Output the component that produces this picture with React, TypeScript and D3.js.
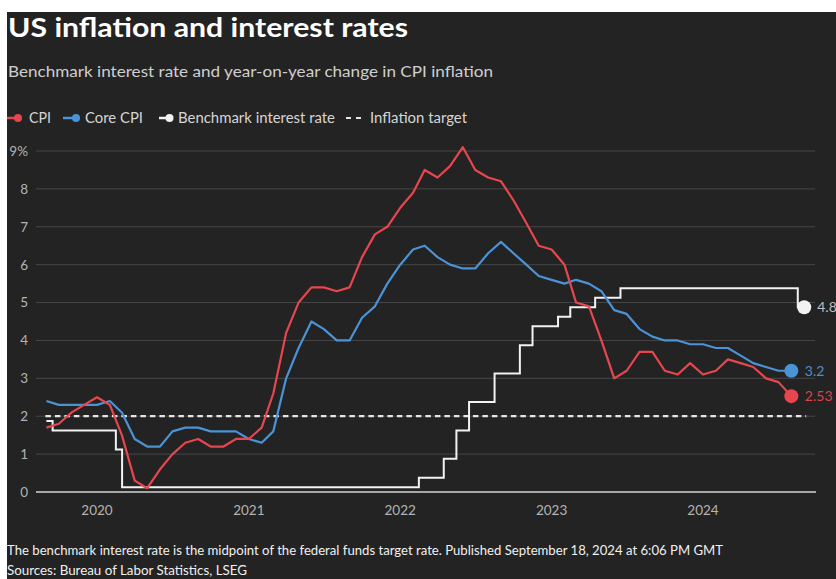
import React from "react";
import * as d3 from "d3";

// ---- Data (monthly, starting September 2019) ----
const seriesStart = "2019-09";
const cpi = [
  1.7, 1.8, 2.1, 2.3,
  2.5, 2.3, 1.5, 0.3, 0.1, 0.6, 1.0, 1.3, 1.4, 1.2, 1.2, 1.4,
  1.4, 1.7, 2.6, 4.2, 5.0, 5.4, 5.4, 5.3, 5.4, 6.2, 6.8, 7.0,
  7.5, 7.9, 8.5, 8.3, 8.6, 9.1, 8.5, 8.3, 8.2, 7.7, 7.1, 6.5,
  6.4, 6.0, 5.0, 4.9, 4.0, 3.0, 3.2, 3.7, 3.7, 3.2, 3.1, 3.4,
  3.1, 3.2, 3.5, 3.4, 3.3, 3.0, 2.9, 2.53,
];
const coreCpi = [
  2.4, 2.3, 2.3, 2.3,
  2.3, 2.4, 2.1, 1.4, 1.2, 1.2, 1.6, 1.7, 1.7, 1.6, 1.6, 1.6,
  1.4, 1.3, 1.6, 3.0, 3.8, 4.5, 4.3, 4.0, 4.0, 4.6, 4.9, 5.5,
  6.0, 6.4, 6.5, 6.2, 6.0, 5.9, 5.9, 6.3, 6.6, 6.3, 6.0, 5.7,
  5.6, 5.5, 5.6, 5.5, 5.3, 4.8, 4.7, 4.3, 4.1, 4.0, 4.0, 3.9,
  3.9, 3.8, 3.8, 3.6, 3.4, 3.3, 3.2, 3.2,
];
// Benchmark rate (midpoint of fed funds target), monthly Sep 2019 - Sep 2024
const rate = [
  1.875, 1.625, 1.625, 1.625,
  1.625, 1.625, 1.125, 0.125, 0.125, 0.125, 0.125, 0.125, 0.125, 0.125, 0.125, 0.125,
  0.125, 0.125, 0.125, 0.125, 0.125, 0.125, 0.125, 0.125, 0.125, 0.125, 0.125, 0.125,
  0.125, 0.125, 0.375, 0.375, 0.875, 1.625, 2.375, 2.375, 3.125, 3.125, 3.875, 4.375,
  4.375, 4.625, 4.875, 4.875, 5.125, 5.125, 5.375, 5.375, 5.375, 5.375, 5.375, 5.375,
  5.375, 5.375, 5.375, 5.375, 5.375, 5.375, 5.375, 5.375, 4.875,
];
// emergency cut within March 2020
const rateExtraDates = ["2020-03-02"];
const rateExtraValues = [0.125];
const inflationTarget = 2;
const yTicks = [0, 1, 2, 3, 4, 5, 6, 7, 8, 9];
const yearTicks = ["2020", "2021", "2022", "2023", "2024"];
const endLabels = { cpi: "2.53", core: "3.2", rate: "4.8" };

const title = "US inflation and interest rates";
const subtitle = "Benchmark interest rate and year-on-year change in CPI inflation";
const legendItems = ["CPI", "Core CPI", "Benchmark interest rate", "Inflation target"];
const footer1 =
  "The benchmark interest rate is the midpoint of the federal funds target rate. Published September 18, 2024 at 6:06 PM GMT";
const footer2 = "Sources: Bureau of Labor Statistics, LSEG";

const COLORS = {
  bg: "#232323",
  cpi: "#e8464e",
  core: "#4a93d6",
  rate: "#f2f2f2",
  grid: "#474747",
  axisText: "#b4b4b4",
};
const FONT = "Lato, 'Open Sans', sans-serif";

type Pt = { date: Date; value: number };

export default function App() {
  const W = 836;
  const H = 579;
  const parseMonth = d3.timeParse("%Y-%m");
  const parseDay = d3.timeParse("%Y-%m-%d");
  const start = parseMonth(seriesStart) as Date;

  const x = d3
    .scaleTime()
    .domain([new Date(2020, 0, 1), new Date(2024, 0, 1)])
    .range([97, 703]);
  const y = d3.scaleLinear().domain([0, 9]).range([492, 151]);

  const toPts = (arr: number[]): Pt[] =>
    arr.map((v, i) => ({ date: d3.timeMonth.offset(start, i), value: v }));

  const cpiPts = toPts(cpi);
  const corePts = toPts(coreCpi);
  const ratePts = toPts(rate)
    .concat(
      rateExtraDates.map((d, i) => ({ date: parseDay(d) as Date, value: rateExtraValues[i] }))
    )
    .sort((a, b) => +a.date - +b.date);

  const line = d3
    .line<Pt>()
    .x((d) => x(d.date))
    .y((d) => y(d.value))
    .curve(d3.curveLinear);
  const stepLine = d3
    .line<Pt>()
    .x((d) => x(d.date))
    .y((d) => y(d.value))
    .curve(d3.curveStep);

  const gridX0 = 36;
  const gridX1 = 815;
  const lastCpi = cpiPts[cpiPts.length - 1];
  const lastCore = corePts[corePts.length - 1];
  const lastRate = ratePts[ratePts.length - 1];
  const targetX0 = x(ratePts[0].date) - 1;
  const targetX1 = x(lastRate.date) + 2;

  return (
    <svg
      width={W}
      height={H}
      style={{ position: "absolute", left: 0, top: 0, display: "block" }}
      fontFamily={FONT}
    >
      <rect x={0} y={0} width={W} height={H} fill="#ffffff" />
      <rect x={7} y={12} width={W - 7} height={H - 12} fill={COLORS.bg} />

      {/* Title block */}
      <text x={8} y={37} fill="#ffffff" fontSize={27.5} fontWeight={700} textLength={400} lengthAdjust="spacingAndGlyphs">
        {title}
      </text>
      <text x={8} y={77} fill="#cfcfcf" fontSize={16} textLength={485} lengthAdjust="spacingAndGlyphs">
        {subtitle}
      </text>

      {/* Legend */}
      <g fontSize={14.5} fill="#d6d6d6">
        <line x1={7} x2={17} y1={118} y2={118} stroke={COLORS.cpi} strokeWidth={2.5} />
        <circle cx={18} cy={118} r={4} fill={COLORS.cpi} />
        <text x={29} y={123} textLength={22} lengthAdjust="spacingAndGlyphs">{legendItems[0]}</text>

        <line x1={63} x2={75} y1={118} y2={118} stroke={COLORS.core} strokeWidth={2.5} />
        <circle cx={76} cy={118} r={4} fill={COLORS.core} />
        <text x={85} y={123} textLength={58} lengthAdjust="spacingAndGlyphs">{legendItems[1]}</text>

        <line x1={159} x2={169} y1={118} y2={118} stroke={COLORS.rate} strokeWidth={2.5} />
        <circle cx={169.5} cy={118} r={4} fill={COLORS.rate} />
        <text x={178} y={123} textLength={157} lengthAdjust="spacingAndGlyphs">{legendItems[2]}</text>

        <line x1={346} x2={363} y1={118} y2={118} stroke="#e6e6e6" strokeWidth={2} strokeDasharray="5 5" />
        <text x={370} y={123} textLength={97} lengthAdjust="spacingAndGlyphs">{legendItems[3]}</text>
      </g>

      {/* Grid */}
      {yTicks.map((t) =>
        t === 0 ? null : (
          <line key={"g" + t} x1={gridX0} x2={gridX1} y1={y(t)} y2={y(t)} stroke={COLORS.grid} strokeWidth={1} />
        )
      )}
      {yTicks.map((t) => (
        <text
          key={"yl" + t}
          x={28}
          y={y(t)}
          dy="0.36em"
          textAnchor="end"
          fill={COLORS.axisText}
          fontSize={13.5}
        >
          {t === 9 ? "9%" : String(t)}
        </text>
      ))}
      {yearTicks.map((yr) => (
        <text
          key={"xl" + yr}
          x={x(new Date(+yr, 0, 1))}
          y={515}
          textAnchor="middle"
          fill={COLORS.axisText}
          fontSize={13.5}
        >
          {yr}
        </text>
      ))}

      {/* Inflation target */}
      <line
        x1={targetX0}
        x2={targetX1}
        y1={y(inflationTarget)}
        y2={y(inflationTarget)}
        stroke="#e6e6e6"
        strokeWidth={2.2}
        strokeDasharray="5.5 4"
      />

      {/* Series */}
      <path d={stepLine(ratePts) ?? ""} fill="none" stroke={COLORS.rate} strokeWidth={2} />
      <path d={line(corePts) ?? ""} fill="none" stroke={COLORS.core} strokeWidth={2.2} strokeLinejoin="round" />
      <path d={line(cpiPts) ?? ""} fill="none" stroke={COLORS.cpi} strokeWidth={2.2} strokeLinejoin="round" />

      {/* baseline */}
      <line x1={gridX0} x2={gridX1 + 1} y1={y(0)} y2={y(0)} stroke="#d4d4d4" strokeWidth={1.6} />

      {/* End dots and labels */}
      <circle cx={x(lastRate.date)} cy={y(lastRate.value)} r={7} fill={COLORS.rate} />
      <circle cx={x(lastCore.date)} cy={y(lastCore.value)} r={7} fill={COLORS.core} />
      <circle cx={x(lastCpi.date)} cy={y(lastCpi.value)} r={7} fill={COLORS.cpi} />
      <text x={x(lastRate.date) + 13} y={y(lastRate.value)} dy="0.36em" fill="#bdbdbd" fontSize={14}>
        {endLabels.rate}
      </text>
      <text x={x(lastCore.date) + 13.5} y={y(lastCore.value)} dy="0.36em" fill="#4d8fcc" fontSize={14}>
        {endLabels.core}
      </text>
      <text x={x(lastCpi.date) + 13.5} y={y(lastCpi.value)} dy="0.36em" fill="#d9454c" fontSize={14}>
        {endLabels.cpi}
      </text>

      {/* Footer */}
      <text x={7} y={555} fill="#f0f0f0" fontSize={13} textLength={716} lengthAdjust="spacingAndGlyphs">
        {footer1}
      </text>
      <text x={7} y={575} fill="#f0f0f0" fontSize={13} textLength={240} lengthAdjust="spacingAndGlyphs">
        {footer2}
      </text>
    </svg>
  );
}
